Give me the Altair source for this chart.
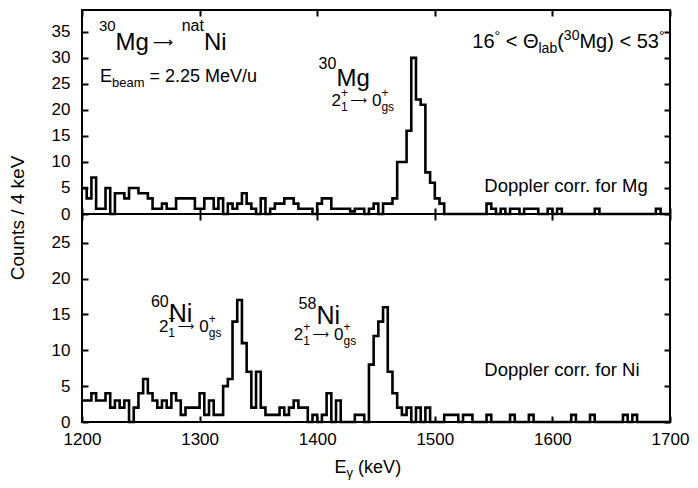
import altair as alt
import pandas as pd

# ---------------- data ----------------
BIN_START = 1200      # left edge of the first 4-keV bin
BIN_WIDTH = 4

x_ticks = [1200, 1300, 1400, 1500, 1600, 1700]
mg_y_ticks = [0, 5, 10, 15, 20, 25, 30, 35]
ni_y_ticks = [0, 5, 10, 15, 20, 25]

# Doppler corrected for Mg (upper panel), counts per 4 keV bin, 1200..1700 keV
mg_counts = [5, 3, 7, 1, 1, 5, 0, 4, 4, 3,
             5, 5, 4, 4, 3, 1, 1, 2, 1, 1,
             3, 3, 3, 3, 1, 1, 3, 3, 1, 3,
             0, 2, 1, 2, 4, 2, 1, 0, 3, 0,
             1, 2, 2, 3, 3, 2, 1, 1, 1, 0,
             2, 3, 3, 1, 1, 1, 1, 0.5, 1, 1,
             0, 1, 2, 0, 2, 2, 3, 10, 10, 16,
             30, 22, 21, 8, 6, 3, 2, 0, 0, 0,
             0, 0, 0, 0, 0, 0, 2, 1, 0, 1,
             0, 1, 1, 0, 1, 1, 1, 0, 0, 1,
             0, 1, 0, 0, 0, 0, 0, 0, 0, 1,
             0, 0, 0, 0, 0, 0, 0, 0, 0, 0,
             0, 0, 1, 0, 0]

# Doppler corrected for Ni (lower panel)
ni_counts = [3, 3, 4, 3, 3, 4, 2, 3, 2, 3,
             0, 2, 4, 6, 4, 3, 2, 3, 2, 4,
             3, 1, 2, 2, 2, 4, 1, 3, 1, 1,
             5, 6, 14, 17, 11, 7, 2, 7, 2, 1,
             1, 1, 2, 1, 2, 3, 2, 2, 0, 1,
             0, 1, 4, 0, 3, 0, 0, 0, 1, 1,
             0, 8, 12, 14, 16, 7, 4, 2, 1, 2,
             0, 2, 0, 2, 0, 0, 0, 1, 1, 1,
             0, 1, 1, 0, 0, 0, 1, 0, 0, 0,
             0, 1, 0, 0, 0, 1, 0, 0, 0, 0,
             0, 0, 0, 0, 1, 0, 0, 0, 1, 0,
             0, 0, 0, 0, 0, 1, 0, 1, 0, 0,
             0, 0, 0, 0, 0]

ARROW = "\u27f6"      # long rightwards arrow
GAP = " "
# rich-text annotations: anchor (keV, counts) of the first glyph's baseline,
# then pieces (text, font size, rise in px, advance?)
TRANS = [("2", 17, 0, True), ("+", 12, 9, False), ("1", 12, -5, True),
         (GAP, 10, 0, True), (ARROW, 11.5, 2, True), (GAP, 7, 0, True), ("0", 17, 0, True),
         ("+", 12, 9, False), ("gs", 12, -5, True)]
mg_rich = [
    (1214.4, 31.5, [("30", 15, 19, True), ("Mg", 24, 0, True), (GAP, 14, 0, True),
                    (ARROW, 14, 3, True), (GAP, 18, 0, True),
                    ("nat", 16, 19, True), ("Ni", 24, 0, True)]),
    (1215.3, 25.4, [("E", 18, 0, True), ("beam", 13, -5, True), (" = 2.25 MeV/u", 18, 0, True)]),
    (1401.2, 24.6, [("30", 16, 17, True), ("Mg", 24, 0, True)]),
    (1412.2, 20.8, TRANS),
    (1531.9, 31.9, [("16", 20, 0, True), ("\u00b0", 14, 7, True), (" < \u0398", 20, 0, True),
                    ("lab", 14, -5, True), ("(", 20, 0, True), ("30", 14, 8, True),
                    ("Mg)", 20, 0, True), (" < 53", 20, 0, True), ("\u00b0", 14, 7, True)]),
    (1542.1, 4.2, [("Doppler corr. for Mg", 18.5, 0, True)]),
]
ni_rich = [
    (1258.6, 14.0, [("60", 16, 15, True), ("Ni", 25, 0, True)]),
    (1265.4, 12.5, TRANS),
    (1384.2, 13.7, [("58", 16, 15, True), ("Ni", 25, 0, True)]),
    (1380.0, 11.4, TRANS),
    (1542.1, 6.4, [("Doppler corr. for Ni", 18.5, 0, True)]),
    (1414.8, -7.1, [("E", 18, 0, True), ("\u03b3", 13, -4, True), (" (keV)", 18, 0, True)]),
]
y_title = ("Counts / 4 keV", 1146.0, -0.77, 19)

# ---------------- geometry / helpers ----------------
FONT = "Liberation Sans"
ARROW_FONT = "DejaVu Sans"
PLOT_W = 588
TOP_H, BOT_H = 204, 208
MG_YMAX, NI_YMAX = 39.2, 29
X_SCALE = alt.Scale(domain=[1200, 1700], nice=False, zero=False)

ADV = {" ": 278, ".": 278, "/": 278, "(": 333, ")": 333, "+": 584, "=": 584, "<": 584,
       "M": 833, "N": 722, "E": 667, "D": 722, "V": 667, "g": 556, "i": 222, "n": 556,
       "a": 556, "t": 278, "b": 556, "e": 556, "m": 833, "u": 556, "l": 222, "s": 500,
       "o": 556, "p": 556, "r": 333, "c": 500, "f": 278, "k": 500,
       ARROW: 1700, "\u00b0": 400, "\u0398": 778, "\u03b3": 500}


def width(text, size):
    return sum(ADV.get(ch, 556) for ch in text) * size / 1000.0


def compose(rich, px_per_cnt):
    rows = []
    px_per_kev = PLOT_W / 500.0
    for e0, c0, parts in rich:
        cur = 0.0
        for text, size, rise, adv in parts:
            shown = text.strip()
            lead = width(text[:len(text) - len(text.lstrip())], size)
            if shown:
                rows.append((shown, e0 + (cur + lead) / px_per_kev,
                             c0 + rise / px_per_cnt, size))
            if adv:
                cur += width(text, size)
    return pd.DataFrame(rows, columns=["t", "E", "c", "s"])


def step_frame(counts):
    xs = [BIN_START + BIN_WIDTH * i for i in range(len(counts) + 1)]
    ys = list(counts) + [counts[-1]]
    return pd.DataFrame({"E": xs, "c": ys})


def tick_axis(orient, values, labels=False, label_pad=0):
    kw = dict(orient=orient, values=values, domain=False, grid=False, title=None,
              ticks=True, tickSize=6, tickWidth=2, tickColor="black", offset=-6,
              labels=labels)
    if labels:
        kw.update(labelFont=FONT, labelFontSize=17, labelColor="black", format="d",
                  labelPadding=label_pad, labelFlush=False, labelOverlap=False)
    return alt.Axis(**kw)


def text_layer(df, ysc, font, y_ticks=None):
    xa = tick_axis("top", x_ticks) if y_ticks else None
    ya = tick_axis("right", y_ticks) if y_ticks else None
    return alt.Chart(df).mark_text(
        align="left", baseline="alphabetic", color="black", font=font
    ).encode(
        x=alt.X("E:Q", scale=X_SCALE, axis=xa),
        y=alt.Y("c:Q", scale=ysc, axis=ya),
        text="t:N",
        size=alt.Size("s:Q", scale=None, legend=None),
    )


def panel(counts, rich, y_max, y_ticks, height, x_labels, extra=None):
    ysc = alt.Scale(domain=[0, y_max], nice=False, zero=False)
    hist = alt.Chart(step_frame(counts)).mark_line(
        interpolate="step-after", color="black", strokeWidth=2.6
    ).encode(
        x=alt.X("E:Q", scale=X_SCALE,
                axis=tick_axis("bottom", x_ticks, labels=x_labels, label_pad=9)),
        y=alt.Y("c:Q", scale=ysc,
                axis=tick_axis("left", y_ticks, labels=True, label_pad=12)),
    )
    notes = compose(rich, height / y_max)
    is_arrow = notes["t"] == ARROW
    layers = [hist,
              text_layer(notes[~is_arrow], ysc, FONT, y_ticks),
              text_layer(notes[is_arrow], ysc, ARROW_FONT)]
    if extra is not None:
        t, e, c, s = extra
        ytl = alt.Chart(pd.DataFrame({"t": [t], "E": [e], "c": [c]})).mark_text(
            align="center", baseline="middle", angle=270, color="black",
            font=FONT, fontSize=s
        ).encode(
            x=alt.X("E:Q", scale=X_SCALE, axis=None),
            y=alt.Y("c:Q", scale=ysc, axis=None),
            text="t:N",
        )
        layers.append(ytl)
    return alt.layer(*layers).properties(width=PLOT_W, height=height)


top = panel(mg_counts, mg_rich, MG_YMAX, mg_y_ticks, TOP_H, False, extra=y_title)
bottom = panel(ni_counts, ni_rich, NI_YMAX, ni_y_ticks, BOT_H, True)

chart = alt.vconcat(top, bottom, spacing=0, bounds="flush").properties(
    padding={"left": 0, "top": 0, "right": 0, "bottom": 0}
).configure_view(stroke="black", strokeWidth=2)

chart.save("out.html", embed_options={"renderer": "svg", "actions": False})
